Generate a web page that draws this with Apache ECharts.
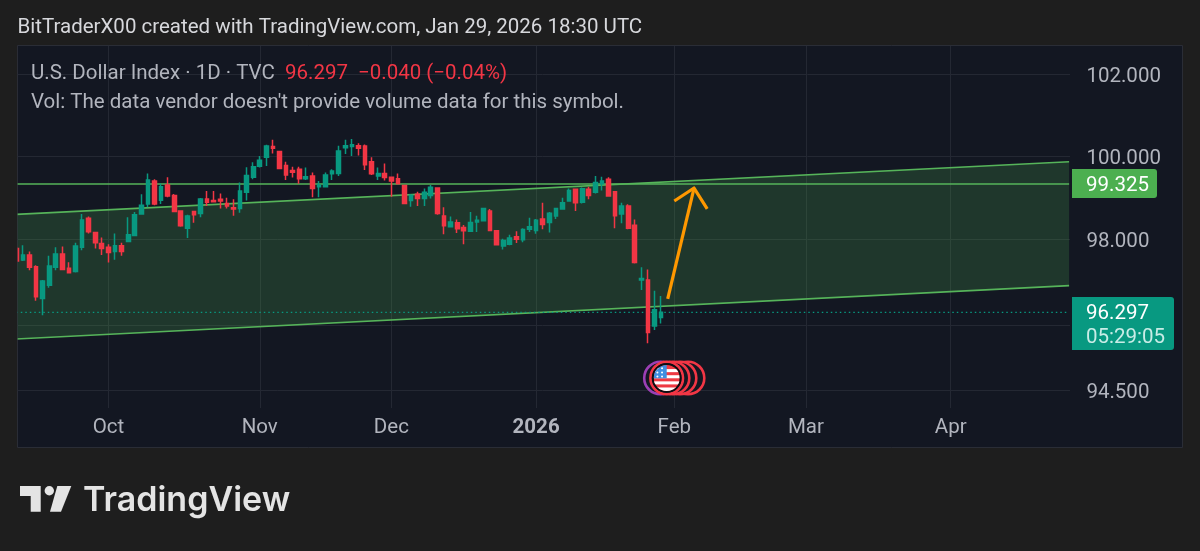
<!DOCTYPE html>
<html>
<head>
<meta charset="utf-8">
<style>html,body{margin:0;padding:0;background:#1e1e1e}#c{width:1200px;height:551px}</style>
<script src="https://cdn.jsdelivr.net/npm/echarts@6/dist/echarts.min.js"></script>
</head>
<body>
<div id="c"></div>
<script>
const categories = [
"2025-09-11","2025-09-12","2025-09-15","2025-09-16","2025-09-17","2025-09-18","2025-09-19","2025-09-22","2025-09-23","2025-09-24","2025-09-25","2025-09-26","2025-09-29","2025-09-30",
"2025-10-01","2025-10-02","2025-10-03","2025-10-06","2025-10-07","2025-10-08","2025-10-09","2025-10-10","2025-10-13","2025-10-14","2025-10-15","2025-10-16","2025-10-17","2025-10-20","2025-10-21","2025-10-22","2025-10-23","2025-10-24","2025-10-27","2025-10-28","2025-10-29","2025-10-30","2025-10-31",
"2025-11-03","2025-11-04","2025-11-05","2025-11-06","2025-11-07","2025-11-10","2025-11-11","2025-11-12","2025-11-13","2025-11-14","2025-11-17","2025-11-18","2025-11-19","2025-11-20","2025-11-21","2025-11-24","2025-11-25","2025-11-26","2025-11-27","2025-11-28",
"2025-12-01","2025-12-02","2025-12-03","2025-12-04","2025-12-05","2025-12-08","2025-12-09","2025-12-10","2025-12-11","2025-12-12","2025-12-15","2025-12-16","2025-12-17","2025-12-18","2025-12-19","2025-12-22","2025-12-23","2025-12-24","2025-12-26","2025-12-29","2025-12-30","2025-12-31",
"2026-01-02","2026-01-05","2026-01-06","2026-01-07","2026-01-08","2026-01-09","2026-01-12","2026-01-13","2026-01-14","2026-01-15","2026-01-16","2026-01-19","2026-01-20","2026-01-21","2026-01-22","2026-01-23","2026-01-26","2026-01-27","2026-01-28","2026-01-29","2026-01-30",
"2026-02-02","2026-02-03","2026-02-04","2026-02-05","2026-02-06","2026-02-09","2026-02-10","2026-02-11","2026-02-12","2026-02-13","2026-02-16","2026-02-17","2026-02-18","2026-02-19","2026-02-20","2026-02-23","2026-02-24","2026-02-25","2026-02-26","2026-02-27",
"2026-03-02","2026-03-03","2026-03-04","2026-03-05","2026-03-06","2026-03-09","2026-03-10","2026-03-11","2026-03-12","2026-03-13","2026-03-16","2026-03-17","2026-03-18","2026-03-19","2026-03-20","2026-03-23","2026-03-24","2026-03-25","2026-03-26","2026-03-27","2026-03-30","2026-03-31",
"2026-04-01","2026-04-02","2026-04-03","2026-04-06","2026-04-07","2026-04-08","2026-04-09","2026-04-10","2026-04-13","2026-04-14","2026-04-15","2026-04-16","2026-04-17","2026-04-20","2026-04-21","2026-04-22","2026-04-23","2026-04-24","2026-04-27"
];
const opens = [97.79,97.52,97.64,97.36,96.62,96.93,97.35,97.66,97.33,97.25,97.82,98.51,98.17,97.91,97.82,97.72,97.86,97.96,98.10,98.61,98.85,99.40,98.94,99.30,99.05,98.68,98.27,98.67,98.62,98.97,98.93,98.96,98.86,98.76,98.74,
99.13,99.49,99.75,99.97,100.23,100.11,99.77,99.65,99.68,99.45,99.52,99.26,99.26,99.57,99.58,100.20,100.23,100.25,100.24,99.86,99.52,99.58,99.49,99.45,99.29,98.93,99.08,98.98,99.05,99.23,98.56,98.31,98.40,98.29,
98.20,98.42,98.45,98.68,98.21,97.85,97.89,98.07,98.00,98.25,98.22,98.49,98.41,98.56,98.73,98.92,99.20,98.89,99.20,99.13,99.33,99.44,99.14,98.61,98.80,98.34,97.05,97.05,95.98,96.18];
const closes = [97.50,97.64,97.35,96.66,97.03,97.38,97.66,97.30,97.22,97.85,98.47,98.19,97.93,97.79,97.70,97.86,97.72,98.12,98.59,98.82,99.42,98.85,99.26,99.04,98.67,98.33,98.56,98.59,98.97,98.89,98.90,98.92,98.80,98.73,99.16,
99.53,99.74,99.90,100.24,100.19,99.70,99.54,99.61,99.45,99.50,99.22,99.30,99.54,99.64,100.12,100.25,100.27,100.19,99.79,99.57,99.58,99.48,99.40,99.33,98.86,99.06,98.98,99.13,99.25,98.62,98.33,98.42,98.26,98.21,
98.41,98.46,98.74,98.22,97.88,97.98,98.04,98.01,98.24,98.31,98.46,98.36,98.63,98.74,98.88,99.17,98.88,99.21,99.05,99.36,99.40,99.04,98.57,98.80,98.27,97.46,97.09,95.83,96.36,96.297];
const lows = [97.49,97.50,97.28,96.57,96.23,96.87,97.28,97.28,97.21,97.23,97.75,98.15,97.79,97.64,97.46,97.53,97.62,97.95,98.08,98.61,98.77,98.82,98.85,99.01,98.66,98.31,98.04,98.40,98.53,98.80,98.89,98.74,98.74,98.57,98.64,
98.93,99.44,99.72,99.76,100.06,99.69,99.42,99.48,99.33,99.42,99.01,99.01,99.25,99.42,99.52,100.05,100.00,100.01,99.66,99.54,99.42,99.41,99.02,99.33,98.84,98.78,98.80,98.80,98.98,98.59,98.13,98.31,98.16,97.89,
98.18,98.18,98.43,98.21,97.87,97.77,97.87,97.92,97.94,98.18,98.14,98.25,98.17,98.49,98.71,98.90,98.68,98.86,98.96,99.10,99.17,99.02,98.27,98.39,98.25,97.44,96.82,95.58,95.89,96.04];
const highs = [97.83,97.87,97.72,97.40,97.05,97.62,97.82,97.84,97.47,97.93,98.61,98.55,98.19,98.05,97.89,98.15,97.93,98.53,98.66,99.08,99.58,99.44,99.34,99.49,99.09,98.70,98.59,98.68,98.99,99.16,99.16,99.10,99.00,98.96,99.36,
99.73,99.85,100.00,100.27,100.39,100.11,99.86,99.74,99.74,99.72,99.60,99.40,99.60,99.68,100.25,100.39,100.41,100.31,100.28,99.97,99.72,99.82,99.50,99.58,99.30,99.08,99.14,99.22,99.30,99.25,98.77,98.55,98.48,98.35,
98.66,98.57,98.76,98.73,98.21,98.02,98.12,98.20,98.27,98.52,98.49,98.88,98.66,98.76,99.00,99.22,99.22,99.24,99.26,99.52,99.50,99.49,99.14,98.88,98.84,98.48,97.35,97.30,96.80,96.68];

const channelUpper = [98.60, 99.86];
const channelLower = [95.68, 96.92];
const resistanceLevel = 99.325;
const lastPrice = 96.297;
const arrowShaft = [["2026-01-30",96.61],["2026-02-05",99.23]];
const arrowHead = [["2026-02-02",98.92],["2026-02-05",99.23],["2026-02-09",98.73]];

const priceGridValues = [94.5,96,98,100,102];
const priceLabelValues = [94.5,98,100,102];
const monthTickDates = ["2025-10-01","2025-11-03","2025-12-01","2026-01-02","2026-02-02","2026-03-02","2026-04-01"];
const monthTickLabels = ["Oct","Nov","Dec","2026","Feb","Mar","Apr"];

const FONT = 'Roboto';
const FS = 20.5;
const PANE = '#131722', OUTER = '#1e1e1e', GRIDC = '#242833', TXT = '#b2b5be';
const UP = '#089981', DOWN = '#f23645', CH = '#56b45a';

const flagSvg = 'data:image/svg+xml;utf8,' + encodeURIComponent(
'<svg xmlns="http://www.w3.org/2000/svg" width="28" height="28" viewBox="0 0 28 28"><defs><clipPath id="c"><circle cx="14" cy="14" r="14"/></clipPath></defs><g clip-path="url(#c)"><rect width="28" height="28" fill="#ee3a43"/><rect y="4.4" width="28" height="3.3" fill="#fff"/><rect y="11" width="28" height="3.3" fill="#fff"/><rect y="17.6" width="28" height="3.3" fill="#fff"/><rect y="24.2" width="28" height="3.8" fill="#fff"/><rect width="14" height="14.3" fill="#3e8fe0"/><g fill="#fff"><circle cx="4" cy="3.5" r="1.1"/><circle cx="9" cy="3.5" r="1.1"/><circle cx="4" cy="8" r="1.1"/><circle cx="9" cy="8" r="1.1"/><circle cx="4" cy="12.3" r="1.1"/><circle cx="9" cy="12.3" r="1.1"/></g></g></svg>');

function txt(x, y, text, fill, size, extra) {
  return { type:'text', x, y, z:60, silent:true, style:Object.assign({ text, fill, font:(size||FS)+'px '+FONT, textVerticalAlign:'middle', textAlign:'left' }, extra||{}) };
}
function ring(cx, color) {
  return { type:'circle', z:52, silent:true, shape:{cx, cy:378, r:16.3}, style:{ fill:PANE, stroke:color, lineWidth:2.6 } };
}

const chart = echarts.init(document.getElementById('c'), null, { renderer:'canvas', width:1200, height:551 });
chart.setOption({
  animation:false,
  backgroundColor:OUTER,
  grid:{ left:13, top:46, width:1059.4, height:362, containLabel:false },
  xAxis:{
    type:'category', data:categories, boundaryGap:true,
    axisLine:{show:false},
    axisTick:{show:false, alignWithLabel:true, customValues:monthTickDates},
    axisLabel:{
      show:true, margin:9, color:TXT, fontFamily:FONT, fontSize:FS, hideOverlap:false,
      customValues:monthTickDates,
      formatter:(v)=>{ const l = monthTickLabels[monthTickDates.indexOf(v)]; return l==='2026' ? '{b|'+l+'}' : l; },
      rich:{ b:{ fontWeight:'bold', color:TXT, fontFamily:FONT, fontSize:FS } }
    },
    splitLine:{ show:true, alignWithLabel:true, lineStyle:{ color:GRIDC, width:1 } }
  },
  yAxis:{
    type:'log', logBase:10, min:94.10, max:102.69, position:'right',
    axisLine:{show:false},
    axisTick:{show:false, customValues:priceGridValues},
    axisLabel:{
      show:true, margin:14, color:TXT, fontFamily:FONT, fontSize:FS, align:'left', customValues:priceLabelValues,
      formatter:(v)=>'{p|'+Number(v).toFixed(3)+'}',
      rich:{ p:{ color:TXT, fontFamily:FONT, fontSize:FS, padding:[5,0,0,0] } }
    },
    splitLine:{ show:true, lineStyle:{ color:GRIDC, width:1 } },
    minorSplitLine:{show:false}
  },
  graphic:[
    { type:'rect', z:-1, silent:true, shape:{x:17.5,y:45.5,width:1165,height:402}, style:{ fill:PANE, stroke:'#2a2d36', lineWidth:1 } },
    { type:'rect', z:40, silent:true, shape:{x:12,y:46,width:5,height:362}, style:{ fill:OUTER } },
    { type:'rect', z:40, silent:true, shape:{x:17,y:46,width:0.6,height:362}, style:{ fill:'#2a2d36' } },
    { type:'rect', z:40, silent:true, shape:{x:1070,y:46,width:3,height:362}, style:{ fill:PANE } },

    txt(17.5,28,'BitTraderX00 created with TradingView.com, Jan 29, 2026 18:30 UTC','#d7d8dc'),
    txt(31,74,'U.S. Dollar Index · 1D · TVC',TXT),
    txt(285,74,'96.297',DOWN),
    txt(358,74,'−0.040 (−0.04%)',DOWN),
    txt(31,103,"Vol: The data vendor doesn't provide volume data for this symbol.",TXT),

    { type:'rect', z:50, silent:true, shape:{x:1072,y:169,width:85,height:29,r:[0,3,3,0]}, style:{ fill:'#4caf50' } },
    txt(1086,186,'99.325','#ffffff'),
    { type:'rect', z:50, silent:true, shape:{x:1072,y:297,width:102,height:53,r:[0,3,3,0]}, style:{ fill:UP } },
    txt(1086,314,'96.297','#ffffff'),
    txt(1086,338,'05:29:05','#c8ece6'),

    ring(688,'#f23645'), ring(680,'#f23645'), ring(673,'#f23645'),
    ring(660.5,'#9c3fb5'), ring(666.7,'#f23645'),
    { type:'circle', z:53, silent:true, shape:{cx:666.7,cy:378,r:14.8}, style:{ fill:'#0c0e12' } },
    { type:'image', z:54, silent:true, style:{ image:flagSvg, x:653.7, y:365, width:26, height:26 } },

    { type:'polygon', z:60, silent:true, shape:{points:[[20,486],[40.7,486],[40.7,511.7],[30.7,511.7],[30.7,496],[20,496]]}, style:{fill:'#e4e4e4'} },
    { type:'circle', z:60, silent:true, shape:{cx:49.3,cy:490.7,r:4.7}, style:{fill:'#e4e4e4'} },
    { type:'polygon', z:60, silent:true, shape:{points:[[57.3,486],[71.3,486],[61,511.7],[50,511.7]]}, style:{fill:'#e4e4e4'} },
    txt(83,501,'TradingView','#e4e4e4',34,{ font:'600 34px Inter' })
  ],
  series:[
    {
      type:'custom', name:'Channel fill', silent:true, z:1, clip:true,
      encode:{ x:[0,1], y:[2,3,4,5] },
      data:[[0,categories.length-1,channelUpper[0],channelUpper[1],channelLower[0],channelLower[1]]],
      renderItem:(p,api)=>{
        const a=api.value(0), b=api.value(1);
        return { type:'polygon', shape:{ points:[ api.coord([a,api.value(2)]), api.coord([b,api.value(3)]), api.coord([b,api.value(5)]), api.coord([a,api.value(4)]) ] }, style:{ fill:'rgba(76,175,80,0.22)' } };
      }
    },
    { type:'line', name:'Channel upper', z:2, silent:true, showSymbol:false, data:[[categories[0],channelUpper[0]],[categories[categories.length-1],channelUpper[1]]], lineStyle:{ color:CH, width:1.6 } },
    { type:'line', name:'Channel lower', z:2, silent:true, showSymbol:false, data:[[categories[0],channelLower[0]],[categories[categories.length-1],channelLower[1]]], lineStyle:{ color:CH, width:1.6 } },
    { type:'line', name:'Resistance', z:2, silent:true, showSymbol:false, data:[[categories[0],resistanceLevel],[categories[categories.length-1],resistanceLevel]], lineStyle:{ color:CH, width:1.6 } },
    { type:'line', name:'Last price', z:2, silent:true, showSymbol:false, data:[[categories[0],lastPrice],[categories[categories.length-1],lastPrice]], lineStyle:{ color:UP, width:1.2, type:[1.5,3] } },
    {
      type:'candlestick', name:'DXY', z:3, silent:true, barWidth:4.2,
      itemStyle:{ color:UP, color0:DOWN, borderColor:UP, borderColor0:DOWN, borderWidth:1.5 },
      data:opens.map((o,i)=>[o,closes[i],lows[i],highs[i]])
    },
    { type:'line', name:'Arrow shaft', z:4, silent:true, showSymbol:false, data:arrowShaft, lineStyle:{ color:'#ff9800', width:3.2 } },
    { type:'line', name:'Arrow head', z:4, silent:true, showSymbol:false, data:arrowHead, lineStyle:{ color:'#ff9800', width:3.2, join:'round' } }
  ]
});
</script>
</body>
</html>
